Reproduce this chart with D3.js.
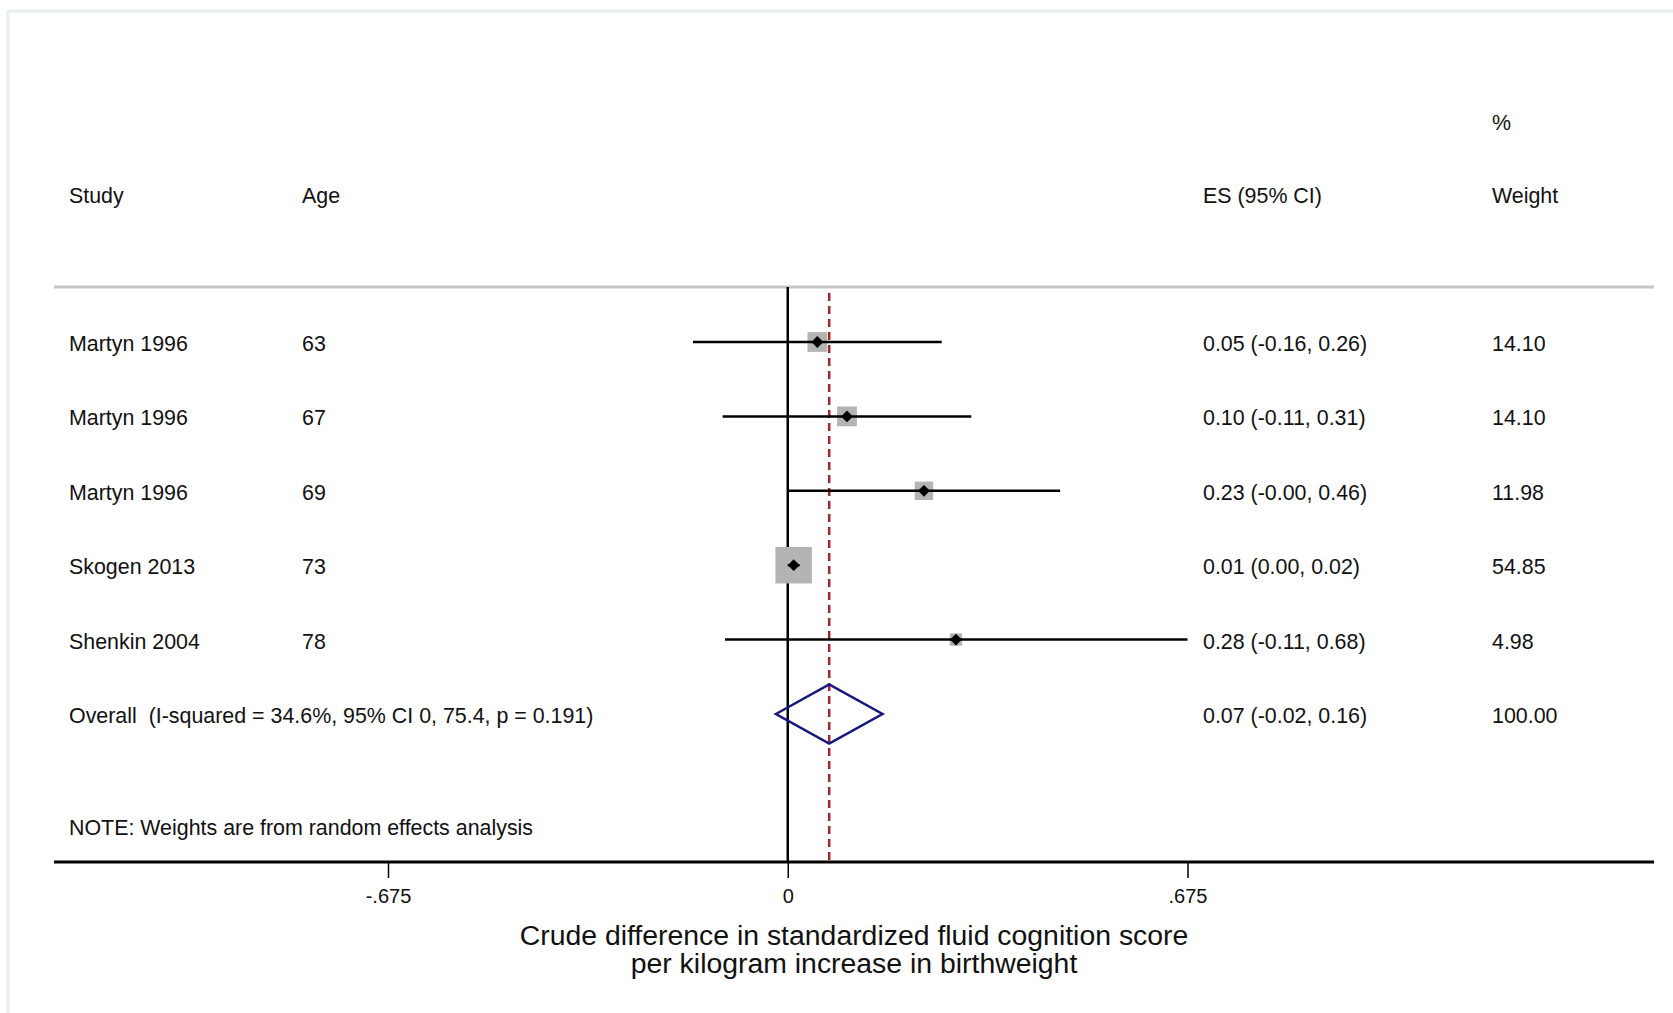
<!DOCTYPE html>
<html>
<head>
<meta charset="utf-8">
<script src="https://cdn.jsdelivr.net/npm/d3@7"></script>
<style>
  body { margin: 0; background: #fff; }
  text { font-family: "Liberation Sans", Arial, sans-serif; fill: #111; }
</style>
</head>
<body>
<div id="chart-container"></div>
<script>
// forest plot data
const studies = ["Martyn 1996", "Martyn 1996", "Martyn 1996", "Skogen 2013", "Shenkin 2004"];
const ages = ["63", "67", "69", "73", "78"];
const es = [0.05, 0.10, 0.23, 0.01, 0.284];
const ciLow = [-0.16, -0.11, -0.001, 0.00, -0.106];
const ciHigh = [0.26, 0.31, 0.46, 0.02, 0.68];
const weights = [14.10, 14.10, 11.98, 54.85, 4.98];

const overall = { es: 0.07, lo: -0.02, hi: 0.16, weight: 100.00 };
const overallLabel = "Overall  (I-squared = 34.6%, 95% CI 0, 75.4, p = 0.191)";
const noteLabel = "NOTE: Weights are from random effects analysis";

const tickValues = [-0.675, 0, 0.675];
const tickLabels = ["-.675", "0", ".675"];
const axisTitle = ["Crude difference in standardized fluid cognition score",
                   "per kilogram increase in birthweight"];

createForestPlot();

function fmt(v) {
    return (v < 0 ? "-" : "") + Math.abs(v).toFixed(2);
}

function createForestPlot() {
    const width = 1673;
    const height = 1013;
    const fs = "21.4px";

    const svg = d3.select("#chart-container")
        .append("svg")
        .attr("width", width)
        .attr("height", height);

    // light outer frame
    svg.append("rect")
        .attr("x", 8)
        .attr("y", 11)
        .attr("width", width + 20)
        .attr("height", height + 20)
        .attr("fill", "none")
        .attr("stroke", "#e7eff1")
        .attr("stroke-width", 3);

    const xScale = d3.scaleLinear()
        .domain([-0.675, 0.675])
        .range([388, 1187.5]);

    const rowIdx = d3.range(studies.length + 1);
    const yScale = d3.scalePoint()
        .domain(rowIdx)
        .range([342, 714]);

    const boxSize = d3.scalePow()
        .exponent(0.45)
        .domain([0, d3.max(weights)])
        .range([0, 36.5]);

    const clip = v => Math.max(tickValues[0], Math.min(tickValues[2], v));

    const col = { study: 69, age: 302, es: 1203, weight: 1492 };
    const sepY = 287;
    const axisY = 862;

    // headers
    svg.append("text").attr("x", col.weight).attr("y", 129.5)
        .style("font-size", fs).text("%");
    const headers = [["Study", col.study], ["Age", col.age], ["ES (95% CI)", col.es], ["Weight", col.weight]];
    svg.selectAll(".hdr")
        .data(headers)
        .enter()
        .append("text")
        .attr("class", "hdr")
        .attr("x", d => d[1])
        .attr("y", 202.5)
        .style("font-size", fs)
        .text(d => d[0]);

    // header separator
    svg.append("line")
        .attr("x1", 54).attr("x2", 1654)
        .attr("y1", sepY).attr("y2", sepY)
        .attr("stroke", "#c6c6c6")
        .attr("stroke-width", 3);

    // null line
    svg.append("line")
        .attr("x1", xScale(0)).attr("x2", xScale(0))
        .attr("y1", sepY).attr("y2", axisY)
        .attr("stroke", "#000")
        .attr("stroke-width", 2.5);

    // overall effect line
    svg.append("line")
        .attr("x1", xScale(overall.es)).attr("x2", xScale(overall.es))
        .attr("y1", sepY + 6).attr("y2", axisY)
        .attr("stroke", "#a3262c")
        .attr("stroke-width", 2.5)
        .attr("stroke-dasharray", "8,5");

    const rows = studies.map((s, i) => ({
        study: s, age: ages[i], es: es[i], lo: ciLow[i], hi: ciHigh[i], w: weights[i], i: i
    }));

    // weight boxes
    svg.selectAll(".box")
        .data(rows)
        .enter()
        .append("rect")
        .attr("class", "box")
        .attr("x", d => xScale(d.es) - boxSize(d.w) / 2)
        .attr("y", d => yScale(d.i) - boxSize(d.w) / 2)
        .attr("width", d => boxSize(d.w))
        .attr("height", d => boxSize(d.w))
        .attr("fill", "#b4b4b4");

    // confidence intervals
    svg.selectAll(".ci")
        .data(rows)
        .enter()
        .append("line")
        .attr("class", "ci")
        .attr("x1", d => xScale(clip(d.lo)))
        .attr("x2", d => xScale(clip(d.hi)))
        .attr("y1", d => yScale(d.i))
        .attr("y2", d => yScale(d.i))
        .attr("stroke", "#000")
        .attr("stroke-width", 2.5);

    // point estimates
    svg.selectAll(".pt")
        .data(rows)
        .enter()
        .append("path")
        .attr("class", "pt")
        .attr("d", d3.symbol(d3.symbolSquare, 70))
        .attr("transform", d => `translate(${xScale(d.es)},${yScale(d.i)}) rotate(45)`)
        .attr("fill", "#000");

    // overall diamond
    const oy = yScale(studies.length);
    const dh = 29.5;
    svg.append("path")
        .attr("d", `M${xScale(overall.lo)},${oy} L${xScale(overall.es)},${oy - dh} L${xScale(overall.hi)},${oy} L${xScale(overall.es)},${oy + dh} Z`)
        .attr("fill", "none")
        .attr("stroke", "#16167f")
        .attr("stroke-width", 2.5);

    // row texts
    const textRows = rows.map(d => ({
        i: d.i, study: d.study, age: d.age,
        es: `${fmt(d.es)} (${fmt(d.lo)}, ${fmt(d.hi)})`, w: d.w.toFixed(2)
    }));
    textRows.push({
        i: studies.length, study: overallLabel, age: "",
        es: `${fmt(overall.es)} (${fmt(overall.lo)}, ${fmt(overall.hi)})`, w: overall.weight.toFixed(2)
    });

    const rowText = svg.selectAll(".row")
        .data(textRows)
        .enter()
        .append("g")
        .attr("class", "row")
        .attr("transform", d => `translate(0, ${yScale(d.i) + 9})`);

    rowText.append("text").attr("x", col.study).style("font-size", fs)
        .style("white-space", "pre").text(d => d.study);
    rowText.append("text").attr("x", col.age).style("font-size", fs).text(d => d.age);
    rowText.append("text").attr("x", col.es).style("font-size", fs).text(d => d.es);
    rowText.append("text").attr("x", col.weight).style("font-size", fs).text(d => d.w);

    // note
    svg.append("text")
        .attr("x", col.study).attr("y", 834.5)
        .style("font-size", fs)
        .text(noteLabel);

    // x axis
    svg.append("line")
        .attr("x1", 54).attr("x2", 1654)
        .attr("y1", axisY).attr("y2", axisY)
        .attr("stroke", "#000")
        .attr("stroke-width", 3);

    const axis = svg.append("g")
        .attr("transform", `translate(0, ${axisY})`)
        .call(d3.axisBottom(xScale)
            .tickValues(tickValues)
            .tickFormat((d, i) => tickLabels[i])
            .tickSize(16)
            .tickPadding(11));
    axis.select(".domain").remove();
    axis.selectAll(".tick line").attr("stroke", "#000").attr("stroke-width", 1.5);
    axis.selectAll(".tick text")
        .style("font-size", "20px")
        .style("font-family", "'Liberation Sans', Arial, sans-serif")
        .attr("fill", "#111");

    // axis title
    svg.selectAll(".xtitle")
        .data(axisTitle)
        .enter()
        .append("text")
        .attr("class", "xtitle")
        .attr("x", 854)
        .attr("y", (d, i) => 945 + i * 28)
        .attr("text-anchor", "middle")
        .style("font-size", "28.4px")
        .text(d => d);
}
</script>
</body>
</html>
